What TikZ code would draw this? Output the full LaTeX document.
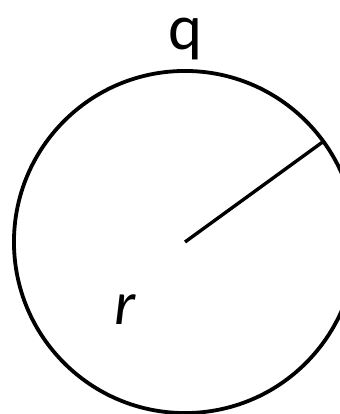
\documentclass[tikz,border=0pt]{standalone}
\usepackage{fontspec}
\setmainfont{Carlito}
\usepackage{tikz}
\usetikzlibrary{calc}

\begin{document}
\begin{tikzpicture}[
  x=0.025cm, y=-0.025cm,
  rim/.style={draw=black, line width=2.7pt},
  ray/.style={draw=black, line width=2.4pt},
  lbl/.style={inner sep=0pt, font=\fontsize{46}{46}\selectfont}
]
\useasboundingbox (0,0) rectangle (340,414);
\coordinate (O) at (185,242);
\draw[rim] (O) circle[radius=4.275cm];
\coordinate (P) at ($(O)+(36:4.275cm)$);
\draw[ray] (O) -- (P);
\node[lbl] (q) at (185,39) {q};
\node[lbl, font=\fontsize{44}{44}\selectfont\itshape] (r) at (125,310) {r};
\end{tikzpicture}
\end{document}
